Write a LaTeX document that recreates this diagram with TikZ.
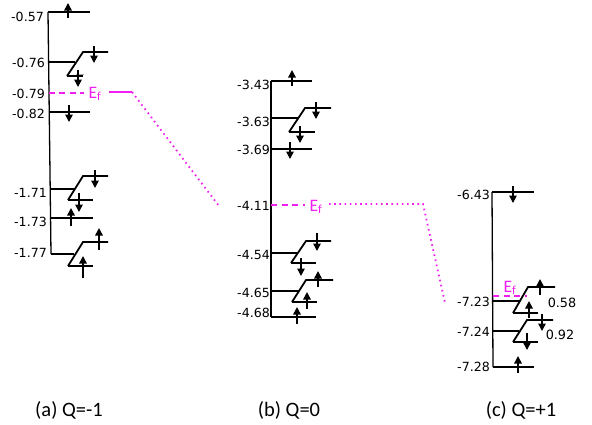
\documentclass[tikz,border=0pt]{standalone}
\usepackage{fontspec}
\setmainfont{Carlito}
\newfontfamily\numfont{DejaVu Sans}
\usetikzlibrary{arrows.meta}
\definecolor{fermimag}{RGB}{240,30,240}
\tikzset{
  axisln/.style={line width=1.3bp, black},
  lev/.style={line width=1.8bp, black, line cap=butt},
  spinarr/.style={line width=1.5bp, black, -{Triangle[width=7.5bp,length=7.5bp]}},
  fermi/.style={fermimag, line width=1.8bp, dash pattern=on 6bp off 4.5bp},
  fermisolid/.style={fermimag, line width=1.8bp},
  dotln/.style={fermimag, line width=1.8bp, dash pattern=on 1.6bp off 3.6bp},
  val/.style={font=\numfont\fontsize{12.6bp}{14bp}\selectfont, inner sep=0pt, anchor=east},
  occ/.style={font=\numfont\fontsize{12.8bp}{14bp}\selectfont, inner sep=0pt},
  eflab/.style={font=\fontsize{17.5bp}{19bp}\selectfont, text=fermimag, inner sep=0pt},
  caplab/.style={font=\fontsize{20.5bp}{23bp}\selectfont, inner sep=0pt}
}
\begin{document}
\begin{tikzpicture}[x=1bp,y=-1bp]
\useasboundingbox (0,0) rectangle (592,424);
% ===== Panel (a) =====
\draw[axisln] (48,12) -- (51,254);
% -0.57
\draw[lev] (48,12) -- (90,12);
\draw[spinarr] (68,18) -- (68,3);
% -0.76
\draw[lev] (48.8,62) -- (75,62);
\draw[lev] (67,76) -- (83,52) -- (108,52);
\draw[lev] (67,76) -- (83,76);
\draw[gray!70, line width=0.7bp] (76,74.2) -- (84,74.2);
\draw[spinarr] (94,46) -- (94,63);
\draw[spinarr] (78,70) -- (78,87);
% Ef (a)
\draw[fermi] (48.5,93) -- (84,93);
\node[eflab] (efa) at (95,94) {E\textsubscript{f}};
\draw[fermisolid] (109,92) -- (132,92);
\coordinate (dotA1) at (132,92);
\coordinate (dotA2) at (219,206);
\draw[dotln] (dotA1) -- (dotA2);
% -0.82
\draw[lev] (49,112) -- (90,112);
\draw[spinarr] (69,105) -- (69,122);
% -1.71
\draw[lev] (50.5,189) -- (75,189);
\draw[lev] (68,200) -- (83,176) -- (108,176);
\draw[lev] (68,200) -- (93,200);
\draw[spinarr] (95,170) -- (95,188);
\draw[spinarr] (79,193) -- (79,212);
% -1.73
\draw[lev] (50.7,218) -- (93,218);
\draw[spinarr] (71,226) -- (71,208);
% -1.77
\draw[lev] (51,254) -- (74,254);
\draw[lev] (68,266) -- (83,242) -- (108,242);
\draw[lev] (68,266) -- (93,266);
\draw[spinarr] (99,250) -- (99,228);
\draw[spinarr] (83,278) -- (83,256);
% labels (a)
\node[val] (a1) at (44,17) {-0.57};
\node[val] (a2) at (45,63) {-0.76};
\node[val] (a3) at (45,94) {-0.79};
\node[val] (a4) at (45,114) {-0.82};
\node[val] (a5) at (47,193) {-1.71};
\node[val] (a6) at (47,222) {-1.73};
\node[val] (a7) at (47,253) {-1.77};
% ===== Panel (b) =====
\draw[axisln] (271,81) -- (271,317);
% -3.43
\draw[lev] (271,81) -- (312,81);
\draw[spinarr] (292,86) -- (292,70);
% -3.63
\draw[lev] (271,118) -- (298,118);
\draw[lev] (289,132) -- (305,108) -- (331,108);
\draw[lev] (289,132) -- (315,132);
\draw[spinarr] (316,102) -- (316,119);
\draw[spinarr] (300,126) -- (300,143);
% -3.69
\draw[lev] (271,149) -- (312,149);
\draw[spinarr] (290,142) -- (290,159);
% Ef (b)
\draw[fermi] (271,205) -- (305,205);
\node[eflab] (efb) at (316,207) {E\textsubscript{f}};
\coordinate (dotB1) at (329,204);
\coordinate (dotB2) at (423,204);
\coordinate (dotB3) at (445,303);
\draw[dotln] (dotB1) -- (dotB2) -- (dotB3);
% -4.54
\draw[lev] (271,253) -- (298,253);
\draw[lev] (291,263) -- (306,241) -- (331,241);
\draw[lev] (291,263) -- (316,263);
\draw[spinarr] (317,233) -- (317,251);
\draw[spinarr] (301,258) -- (301,276);
% -4.65
\draw[lev] (271,291) -- (299,291);
\draw[lev] (292,302) -- (306,280) -- (333,280);
\draw[lev] (292,302) -- (317,302);
\draw[spinarr] (318,287) -- (318,271);
\draw[spinarr] (307,309) -- (307,292);
% -4.68
\draw[lev] (271,317) -- (316,317);
\draw[spinarr] (297,324) -- (297,307);
% labels (b)
\node[val] (b1) at (270,85) {-3.43};
\node[val] (b2) at (270,122) {-3.63};
\node[val] (b3) at (270,150) {-3.69};
\node[val] (b4) at (270,206) {-4.11};
\node[val] (b5) at (270,255) {-4.54};
\node[val] (b6) at (270,293) {-4.65};
\node[val] (b7) at (270,313) {-4.68};
% ===== Panel (c) =====
\draw[axisln] (492,192) -- (493,367);
% -6.43
\draw[lev] (492,192) -- (534,192);
\draw[spinarr] (513,186) -- (513,203);
% Ef (c)
\draw[fermi] (493,296) -- (527,296);
\node[eflab] (efc) at (510,288) {E\textsubscript{f}};
% -7.23
\draw[lev] (493,301) -- (520,301);
\draw[lev] (513,313) -- (528,287) -- (555,287);
\draw[lev] (513,313) -- (538,313);
\draw[spinarr] (540,295) -- (540,279);
\draw[spinarr] (529,318) -- (529,301);
% -7.24
\draw[lev] (493,331) -- (519,331);
\draw[lev] (513,342) -- (527,320) -- (553,320);
\draw[lev] (513,342) -- (538,342);
\draw[spinarr] (542,314) -- (542,331);
\draw[spinarr] (527,333) -- (527,350);
% -7.28
\draw[lev] (493,367) -- (534,367);
\draw[spinarr] (518,373) -- (518,356);
% labels (c)
\node[val] (c1) at (490,195) {-6.43};
\node[val] (c2) at (490,302) {-7.23};
\node[val] (c3) at (490,332) {-7.24};
\node[val] (c4) at (490,367) {-7.28};
\node[occ] (o1) at (562,303) {0.58};
\node[occ] (o2) at (560,335) {0.92};
% captions
\node[caplab] (capa) at (69,410) {(a) Q=-1};
\node[caplab] (capb) at (289,410) {(b) Q=0};
\node[caplab] (capc) at (521,410) {(c) Q=+1};
\end{tikzpicture}
\end{document}
